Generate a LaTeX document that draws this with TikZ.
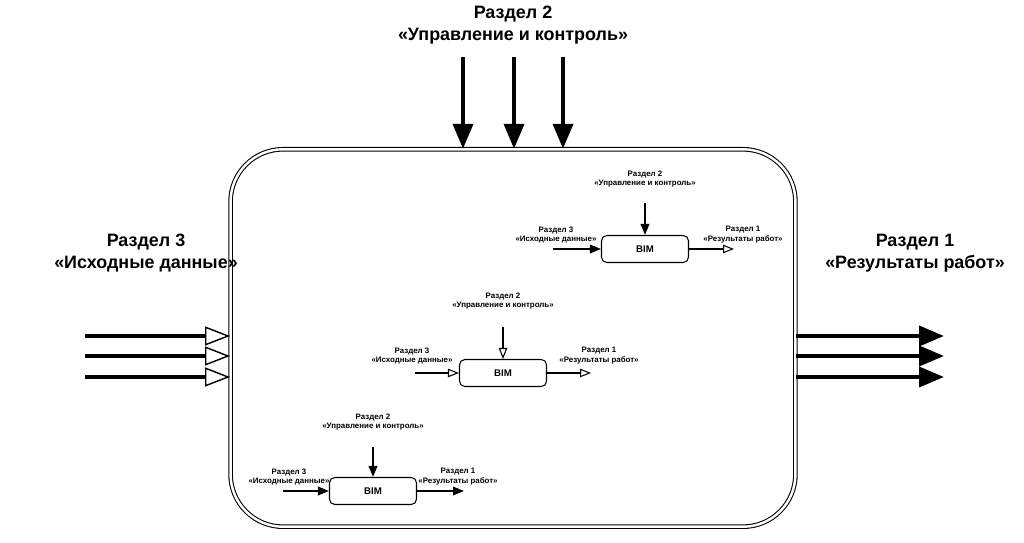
\documentclass[tikz,border=0pt]{standalone}
\usepackage{fontspec}
\setmainfont{Liberation Sans}
\usepackage{tikz}
\usetikzlibrary{arrows.meta,positioning,calc}

\begin{document}
\begin{tikzpicture}[x=0.02cm,y=-0.02cm,
  bigtext/.style={font=\fontsize{10.2}{12.5}\selectfont\bfseries, align=center},
  smalltext/.style={font=\fontsize{4.5}{5.6}\selectfont\bfseries, align=center, inner sep=0pt},
  bimbox/.style={rectangle, draw, rounded corners=3pt, line width=0.6pt, minimum width=1.74cm, minimum height=0.54cm, font=\fontsize{5.5}{6}\selectfont\bfseries},
  bigfill/.style={line width=2.2pt, -{Triangle[length=0.5cm, width=0.4cm]}},
  bigopen/.style={line width=2.2pt, -{Triangle[open, length=0.5cm, width=0.38cm, line width=0.8pt]}},
  smallfill/.style={line width=1.1pt, -{Triangle[length=0.22cm, width=0.17cm]}},
  smallopen/.style={line width=1.1pt, -{Triangle[open, length=0.22cm, width=0.17cm, line width=0.6pt]}}]
\useasboundingbox (0,0) rectangle (1024,543);

% main block
\node[rectangle, draw, double, double distance=1.4pt, line width=0.6pt, rounded corners=1.05cm,
  minimum width=11.3cm, minimum height=7.55cm] (main) at (513,338) {};

% outer labels
\node[bigtext] (ctl) at (513,25) {Раздел 2\\«Управление и контроль»};
\node[bigtext] (inp) at (146,253) {Раздел 3\\«Исходные данные»};
\node[bigtext] (outp) at (915,253) {Раздел 1\\«Результаты работ»};

% outer arrows
\coordinate (c1) at (463,57);
\coordinate (c2) at (514,57);
\coordinate (c3) at (563,57);
\draw[bigfill] (c1) -- (c1 |- main.north);
\draw[bigfill] (c2) -- (c2 |- main.north);
\draw[bigfill] (c3) -- (c3 |- main.north);

\coordinate (i1) at (85,336);
\coordinate (i2) at (85,356);
\coordinate (i3) at (85,377);
\draw[bigopen] (i1) -- (i1 -| main.west);
\draw[bigopen] (i2) -- (i2 -| main.west);
\draw[bigopen] (i3) -- (i3 -| main.west);

\coordinate (o1) at (944,336);
\coordinate (o2) at (944,356);
\coordinate (o3) at (944,377);
\draw[bigfill] (o1 -| main.east) -- (o1);
\draw[bigfill] (o2 -| main.east) -- (o2);
\draw[bigfill] (o3 -| main.east) -- (o3);

% first BIM block
\node[bimbox] (bim1) at (645,249) {BIM};
\node[smalltext] (ctl1) at (645,179) {Раздел 2\\«Управление и контроль»};
\node[smalltext] (inp1) at (556,235) {Раздел 3\\«Исходные данные»};
\node[smalltext] (out1) at (743,235) {Раздел 1\\«Результаты работ»};
\coordinate (a1) at (645,203);
\coordinate (b1) at (553,249);
\coordinate (d1) at (734,249);
\draw[smallfill] (a1) -- (bim1);
\draw[smallfill] (b1) -- (bim1);
\draw[smallopen] (bim1) -- (d1);

% second BIM block
\node[bimbox] (bim2) at (503,373) {BIM};
\node[smalltext] (ctl2) at (503,301) {Раздел 2\\«Управление и контроль»};
\node[smalltext] (inp2) at (412,356) {Раздел 3\\«Исходные данные»};
\node[smalltext] (out2) at (599,356) {Раздел 1\\«Результаты работ»};
\coordinate (a2) at (503,327);
\coordinate (b2) at (415,373);
\coordinate (d2) at (591,373);
\draw[smallopen] (a2) -- (bim2);
\draw[smallopen] (b2) -- (bim2);
\draw[smallopen] (bim2) -- (d2);

% third BIM block
\node[bimbox] (bim3) at (373,491) {BIM};
\node[smalltext] (ctl3) at (373,422) {Раздел 2\\«Управление и контроль»};
\node[smalltext] (inp3) at (289,477) {Раздел 3\\«Исходные данные»};
\node[smalltext] (out3) at (458,477) {Раздел 1\\«Результаты работ»};
\coordinate (a3) at (373,447);
\coordinate (b3) at (283,491);
\coordinate (d3) at (464,491);
\draw[smallfill] (a3) -- (bim3);
\draw[smallfill] (b3) -- (bim3);
\draw[smallfill] (bim3) -- (d3);
\end{tikzpicture}
\end{document}
